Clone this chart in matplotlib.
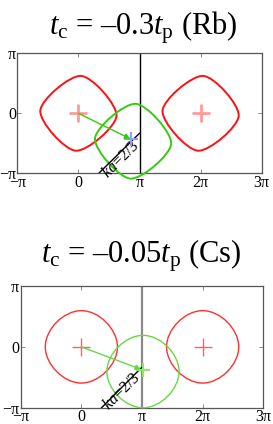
import numpy as np
import matplotlib
matplotlib.use('Agg')
import matplotlib.pyplot as plt
from matplotlib.path import Path
from matplotlib.patches import PathPatch

plt.rcParams['font.family'] = 'Liberation Serif'
plt.rcParams['mathtext.fontset'] = 'custom'
plt.rcParams['mathtext.rm'] = 'Liberation Serif'
plt.rcParams['mathtext.it'] = 'Liberation Serif:italic'

PI = np.pi

# values, in units of pi
titles = [r'$t_\mathrm{c}$ = –0.3$t_\mathrm{p}$ (Rb)',
          r'$t_\mathrm{c}$ = –0.05$t_\mathrm{p}$ (Cs)']
red_cx = [0.0, 2.0]
contour_R = [0.625, 0.595]      # centre to corner
contour_k = [0.3, 0.49]         # roundness of the sides
contour_rot = [-4.0, 0.0]
green_c = [(0.895, -0.465), (1.016, -0.406)]
arrow_tip = [(0.85, -0.425), (0.985, -0.37)]
cross_xy = [(0.86, -0.42), (1.02, -0.38)]
cut_x = [1 / 3, 1.0]
cut_y = [-1.0, -1 / 3]
cut_label = r'$ka$=2/3'
label_xy = [(0.69, -0.775), (0.665, -0.735)]

xt = [-1, 0, 1, 2, 3]
xtl = ['−π', '0', 'π', '2π', '3π']
yt = [-1, 0, 1]
ytl = ['−π', '0', 'π']

red_col = ['#ff1010', '#ff3030']
red_lw = [1.4, 1.0]
redx_col = ['#ff9a9a', '#ff6060']
redx_lw = [2.0, 1.0]
green_col = ['#33cc11', '#66d944']
cross_col = ['#8f9cff', '#8de86a']
vline_col = ['black', '#8a8a8a']
vline_lw = [1.0, 1.6]

# axes boxes in pixels: left, top, right, bottom
boxes = [(17.3, 53.3, 261.7, 173.3), (20.7, 286.0, 263.3, 407.7)]
title_pos = [(143.5, 35), (141.7, 262)]

W, H = 273, 424


def diamond(cx, cy, R, k, rot):
    verts = []
    codes = []
    for i in range(4):
        a = np.radians(rot + 90 * i)
        b = a + PI / 2
        p0 = np.array([cx + R * np.cos(a), cy + R * np.sin(a)])
        p3 = np.array([cx + R * np.cos(b), cy + R * np.sin(b)])
        p1 = p0 + k * R * np.array([np.cos(b), np.sin(b)])
        p2 = p3 + k * R * np.array([np.cos(a), np.sin(a)])
        if i == 0:
            verts.append(p0)
            codes.append(Path.MOVETO)
        verts += [p1, p2, p3]
        codes += [Path.CURVE4] * 3
    return Path(verts, codes)


fig = plt.figure(figsize=(W / 100, H / 100), dpi=100)
for n in range(2):
    l, t, r, b = boxes[n]
    ax = fig.add_axes([l / W, 1 - b / H, (r - l) / W, (b - t) / H])
    ax.set_xlim(-PI, 3 * PI)
    ax.set_ylim(-PI, PI)
    R = contour_R[n] * PI
    for cx in red_cx:
        ax.add_patch(PathPatch(diamond(cx * PI, 0, R, contour_k[n], contour_rot[n]),
                               fill=False, ec=red_col[n], lw=red_lw[n], clip_on=False))
        ax.plot(cx * PI, 0, '+', color=redx_col[n], ms=13, mew=redx_lw[n])
    gx, gy = green_c[n]
    ax.add_patch(PathPatch(diamond(gx * PI, gy * PI, R, contour_k[n], contour_rot[n]),
                           fill=False, ec=green_col[n], lw=red_lw[n], clip_on=False, zorder=3))
    ax.axvline(PI, color=vline_col[n], lw=vline_lw[n], zorder=2)
    ax.plot(np.array(cut_x) * PI, np.array(cut_y) * PI, color='black', lw=1.0, zorder=4)
    ax.plot(cross_xy[n][0] * PI, cross_xy[n][1] * PI, '+', color=cross_col[n], ms=10, mew=1.5, zorder=5)
    ax.annotate('', xy=(arrow_tip[n][0] * PI, arrow_tip[n][1] * PI), xytext=(0, 0),
                arrowprops=dict(arrowstyle='-|>', color=green_col[n], lw=1.0,
                                mutation_scale=8, shrinkA=0, shrinkB=0), zorder=6)
    ax.text(label_xy[n][0] * PI, label_xy[n][1] * PI, cut_label, rotation=45,
            ha='center', va='center', fontsize=11.5, rotation_mode='anchor')
    ax.set_xticks(np.array(xt) * PI)
    ax.set_xticklabels(xtl)
    ax.set_yticks(np.array(yt) * PI)
    ax.set_yticklabels(ytl)
    ax.tick_params(direction='in', length=3, width=0.6, color='#777777',
                   top=True, right=True, labelsize=11.5, pad=1.0)
    for s in ax.spines.values():
        s.set_color('#555555')
        s.set_linewidth(0.9)
    fig.text(title_pos[n][0] / W, 1 - title_pos[n][1] / H, titles[n],
             ha='center', va='baseline', fontsize=22)

fig.savefig('out.png', dpi=100)
